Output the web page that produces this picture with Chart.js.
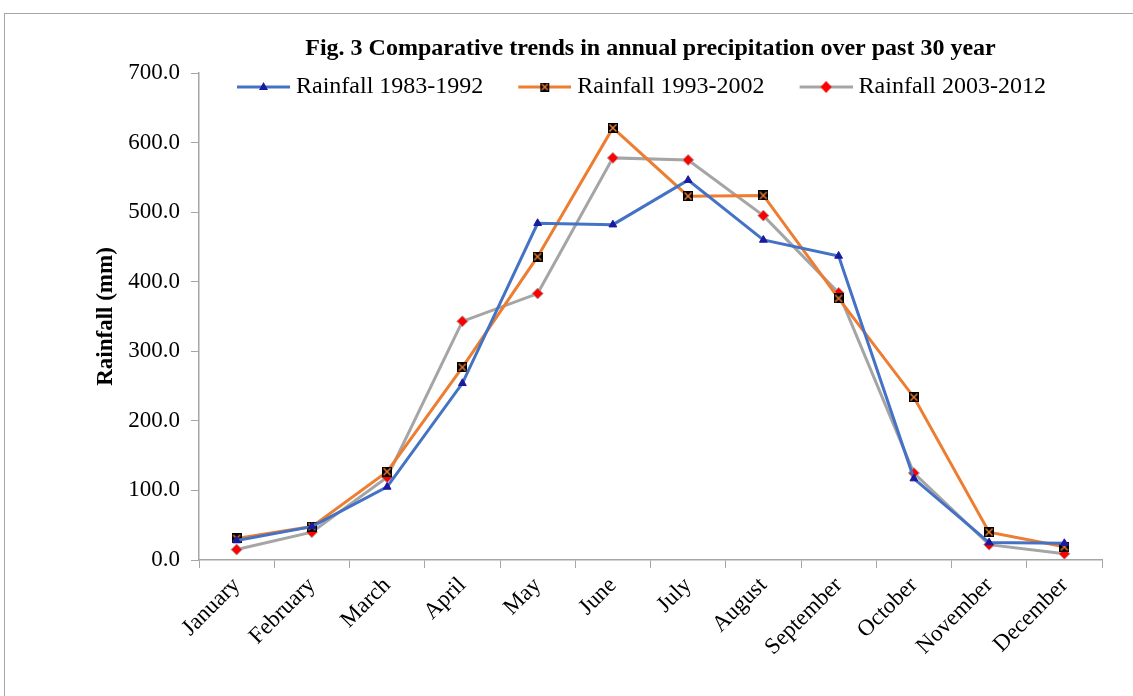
<!DOCTYPE html>
<html>
<head>
<meta charset="utf-8">
<script src="https://cdn.jsdelivr.net/npm/chart.js@4.4.0/dist/chart.umd.min.js"></script>
<style>
  body { margin: 0; background: #fff; overflow: hidden; }
  .frame { position: absolute; left: 4px; top: 13px; width: 1200px; height: 800px; border: 1px solid #a6a6a6; }
  .wrap { position: absolute; left: 0; top: 0; width: 1133px; height: 696px; }
</style>
</head>
<body>
<div class="frame"></div>
<div class="wrap"><canvas id="rainChart" width="1133" height="696"></canvas></div>
<script>
const months = ["January", "February", "March", "April", "May", "June", "July", "August", "September", "October", "November", "December"]
const rain8392 = [28, 48, 105, 254, 484, 482, 546, 460, 437, 117, 25, 24]
const rain9302 = [31, 48, 127, 277, 436, 621, 523, 524, 376, 234, 40, 19]
const rain0312 = [15, 40, 119, 343, 383, 578, 575, 495, 384, 125, 22, 9]
const seriesNames = ["Rainfall 1983-1992", "Rainfall 1993-2002", "Rainfall 2003-2012"]

const blue = "#4472C4"
const orange = "#ED7D31"
const grey = "#A5A5A5"

// black square with an orange cross, like the excel marker
const boxMarker = (size) => {
  const c = document.createElement("canvas")
  c.width = size; c.height = size
  const g = c.getContext("2d")
  g.fillStyle = "#000"
  g.fillRect(0, 0, size, size)
  g.strokeStyle = orange
  g.lineWidth = 1.5
  g.beginPath()
  g.moveTo(1.5, 1.5); g.lineTo(size - 1.5, size - 1.5)
  g.moveTo(size - 1.5, 1.5); g.lineTo(1.5, size - 1.5)
  g.stroke()
  return c
}

// legend icon: transparent gap on the left, then line with marker in the middle
const iconW = 92
const legendIcon = (color, kind) => {
  const c = document.createElement("canvas")
  c.width = iconW; c.height = 14
  const g = c.getContext("2d")
  const x0 = iconW - 53, mid = iconW - 26.5
  g.strokeStyle = color
  g.lineWidth = 3
  g.beginPath(); g.moveTo(x0, 7); g.lineTo(iconW, 7); g.stroke()
  if (kind == "tri") {
    g.fillStyle = "#1a1aa0"
    g.beginPath(); g.moveTo(mid, 2); g.lineTo(mid + 4.5, 10); g.lineTo(mid - 4.5, 10); g.closePath(); g.fill()
  } else if (kind == "box") {
    g.drawImage(boxMarker(9), mid - 4.5, 2.5)
  } else {
    g.fillStyle = "#ff0000"
    g.beginPath(); g.moveTo(mid, 1); g.lineTo(mid + 5.5, 7); g.lineTo(mid, 13); g.lineTo(mid - 5.5, 7); g.closePath(); g.fill()
  }
  return c
}
const legendIcons = [legendIcon(blue, "tri"), legendIcon(orange, "box"), legendIcon(grey, "dia")]

// the excel legend sits inside the plot, just under its top edge
const moveLegend = {
  id: "moveLegend",
  afterLayout(chart) {
    const lg = chart.legend
    const w = lg.right - lg.left
    const h = lg.bottom - lg.top
    lg.left = 202; lg.right = 202 + w
    lg.top = chart.chartArea.top; lg.bottom = lg.top + h
  }
}

const serif = "'Liberation Serif', 'Times New Roman', serif"

const ctx = document.getElementById("rainChart").getContext("2d")
const myChart = new Chart(ctx, {
  type: "line",
  data: {
    labels: months,
    datasets: [
      {
        label: seriesNames[0], data: rain8392,
        borderColor: blue, borderWidth: 3,
        pointStyle: "triangle", pointRadius: 4.5,
        pointBackgroundColor: "#1a1aa0", pointBorderColor: "#1a1aa0", pointBorderWidth: 1
      },
      {
        label: seriesNames[1], data: rain9302,
        borderColor: orange, borderWidth: 3,
        pointStyle: boxMarker(10)
      },
      {
        label: seriesNames[2], data: rain0312,
        borderColor: grey, borderWidth: 3,
        pointStyle: "rectRot", pointRadius: 5.5,
        pointBackgroundColor: "#ff0000", pointBorderColor: grey, pointBorderWidth: 1
      }
    ]
  },
  plugins: [moveLegend],
  options: {
    responsive: false,
    animation: false,
    layout: { padding: { left: 92, right: 31, top: 34, bottom: 0 } },
    plugins: {
      tooltip: { enabled: false },
      title: {
        display: true,
        fullSize: false,
        text: "Fig. 3 Comparative trends in annual precipitation over past 30 year",
        color: "#000",
        font: { family: serif, size: 24, weight: "bold" },
        padding: { top: 0, bottom: -25.8 }
      },
      legend: {
        display: true,
        fullSize: false,
        position: "top",
        align: "start",
        labels: {
          color: "#000",
          font: { family: serif, size: 24 },
          usePointStyle: true,
          pointStyleWidth: iconW - 12,
          padding: 2,
          generateLabels: (chart) => chart.data.datasets.map((ds, i) => ({
            text: ds.label,
            fillStyle: ds.borderColor,
            strokeStyle: ds.borderColor,
            lineWidth: 0,
            pointStyle: legendIcons[i],
            datasetIndex: i,
            hidden: false
          }))
        }
      }
    },
    scales: {
      x: {
        offset: true,
        afterFit: (scale) => { scale.height = 136 },
        grid: { offset: true, drawOnChartArea: false, tickLength: 8, color: "#a6a6a6" },
        border: { color: "#a6a6a6", width: 1.5 },
        ticks: {
          color: "#000",
          maxRotation: 45, minRotation: 45,
          padding: 4,
          font: { family: serif, size: 23 }
        }
      },
      y: {
        min: 0, max: 700,
        afterFit: (scale) => { scale.width = 107 },
        grid: { drawOnChartArea: false, tickLength: 8, color: "#a6a6a6" },
        border: { color: "#a6a6a6", width: 1.5 },
        ticks: {
          stepSize: 100,
          color: "#000",
          padding: 11,
          font: { family: serif, size: 23 },
          callback: (v) => v.toFixed(1)
        },
        title: {
          display: true,
          text: "Rainfall (mm)",
          color: "#000",
          font: { family: serif, size: 23, weight: "bold" },
          padding: { top: 0, bottom: 0 }
        }
      }
    }
  }
})
</script>
</body>
</html>
